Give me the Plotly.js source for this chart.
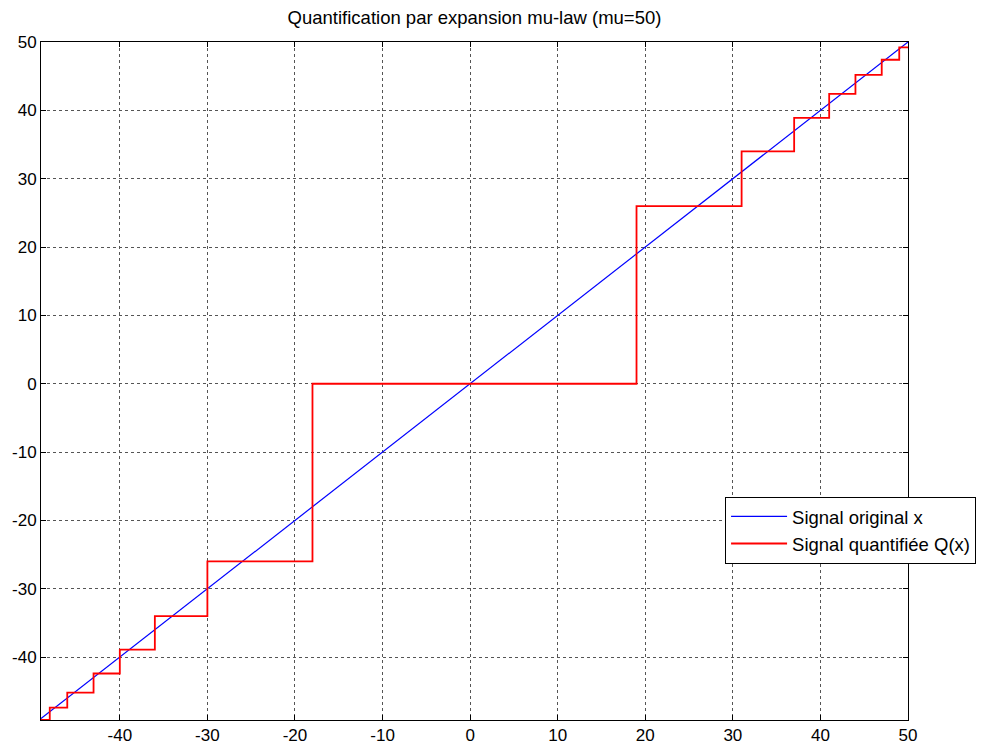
<!DOCTYPE html>
<html>
<head>
<meta charset="utf-8">
<script src="https://cdn.plot.ly/plotly-3.0.1.min.js"></script>
<style>
  html, body { margin: 0; padding: 0; background: #fff; }
  #chart { width: 983px; height: 747px; }
</style>
</head>
<body>
<div id="chart"></div>
<script>
// Original signal: the identity line x -> x over the sampled interval
const signalX = [-49, 50];
const signalY = [-49, 50];

// Quantized signal Q(x): each level holds from its breakpoint to the next one
const stepX = [-49, -48, -46, -43, -40, -36, -30, -18, 19, 31, 37, 41, 44, 47, 49, 50];
const stepLevels = [-49.2, -47.4, -45.2, -42.4, -38.9, -34, -26, 0, 26, 34, 38.9, 42.4, 45.2, 47.4, 49.2, 49.2];

const tickVals = [-40, -30, -20, -10, 0, 10, 20, 30, 40, 50];
const tickText = ['-40', '-30', '-20', '-10', '0', '10', '20', '30', '40', '50'];

const font = 'Liberation Sans, Arial, Helvetica, sans-serif';

const traces = [
  {
    x: signalX, y: signalY,
    type: 'scatter', mode: 'lines',
    name: 'Signal original x',
    line: { color: '#0000ff', width: 1.2 }
  },
  {
    x: stepX, y: stepLevels,
    type: 'scatter', mode: 'lines',
    name: 'Signal quantifiée Q(x)',
    line: { color: '#ff0000', width: 1.8, shape: 'hv' }
  }
];

const axisCommon = {
  showline: true, mirror: 'ticks', linecolor: '#000', linewidth: 1,
  ticks: 'inside', ticklen: 5, tickcolor: '#000', tickwidth: 1,
  showgrid: true, gridcolor: '#555555', griddash: 'dot', gridwidth: 1,
  zeroline: false,
  tickvals: tickVals, ticktext: tickText,
  tickfont: { family: font, size: 17, color: '#000' }
};

const layout = {
  width: 983, height: 747,
  margin: { l: 41, r: 75, t: 42, b: 27, autoexpand: false },
  paper_bgcolor: '#fff', plot_bgcolor: '#fff',
  title: {
    text: 'Quantification par expansion mu-law (mu=50)',
    font: { family: font, size: 18.5, color: '#000' },
    x: 0.5, xanchor: 'center', xref: 'paper',
    y: 1 - 18 / 747, yanchor: 'middle', yref: 'container'
  },
  xaxis: Object.assign({}, axisCommon, { range: [-49, 50] }),
  yaxis: Object.assign({}, axisCommon, { range: [-49.2, 50] }),
  showlegend: true,
  legend: {
    x: 0.789, y: 0.329, xanchor: 'left', yanchor: 'top',
    bgcolor: '#fff', bordercolor: '#000', borderwidth: 1,
    font: { family: font, size: 18.5, color: '#000' },
    itemwidth: 56, tracegroupgap: 0
  }
};

Plotly.newPlot('chart', traces, layout, { displayModeBar: false, staticPlot: true });
</script>
</body>
</html>
